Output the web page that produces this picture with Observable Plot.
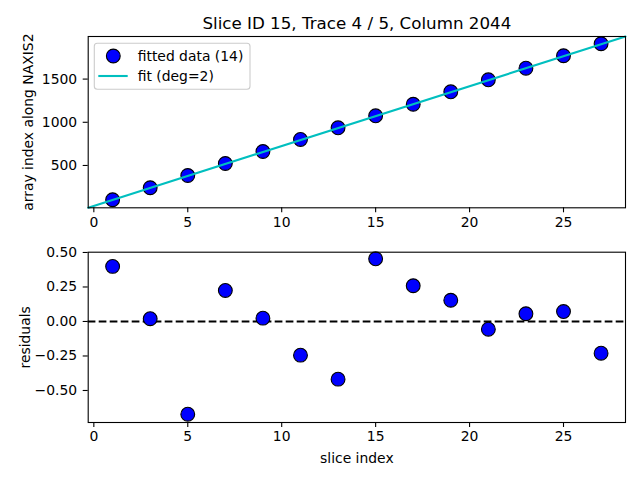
<!DOCTYPE html>
<html>
<head>
<meta charset="utf-8">
<script src="https://cdn.jsdelivr.net/npm/d3@7"></script>
<script src="https://cdn.jsdelivr.net/npm/@observablehq/plot@0.6"></script>
<style>
  body { margin: 0; background: #fff; }
  #fig { position: relative; width: 640px; height: 480px; background: #fff; font-family: "DejaVu Sans", sans-serif; }
  #fig .panel { position: absolute; left: 0; }
  #legend { position: absolute; left: 0; top: 0; pointer-events: none; }
</style>
</head>
<body>
<div id="fig">
  <div id="top" class="panel" style="top:0px"></div>
  <div id="bottom" class="panel" style="top:240px"></div>
</div>
<script>
// ---- data ----
const sliceIndex = [1, 3, 5, 7, 9, 11, 13, 15, 17, 19, 21, 23, 25, 27];
const arrayIndex = [103, 242, 384, 523, 662, 801, 936, 1075, 1209, 1353, 1492, 1626, 1770, 1909];
const residuals  = [0.399, 0.020, -0.672, 0.225, 0.024, -0.244, -0.418, 0.454, 0.259, 0.154, -0.056, 0.056, 0.072, -0.230];
const fitX = [-0.3, 28.3];
const fitY = [12, 1993];
const xDomain = [-0.3, 28.3];
const yDomainTop = [10, 1993];
const yDomainBottom = [-0.732, 0.502];
const xTicks = [0, 5, 10, 15, 20, 25];
const yTicksTop = [500, 1000, 1500];
const yTicksBottom = [-0.5, -0.25, 0, 0.25, 0.5];
const titleText = "Slice ID 15, Trace 4 / 5, Column 2044";
const legendLabels = ["fitted data (14)", "fit (deg=2)"];
const yLabelTop = "array index along NAXIS2";
const yLabelBottom = "residuals";
const xLabel = "slice index";

// ---- tables built from the arrays ----
const points = sliceIndex.map((x, i) => ({x, y: arrayIndex[i]}));
const resid = sliceIndex.map((x, i) => ({x, y: residuals[i]}));
const fit = fitX.map((x, i) => ({x, y: fitY[i]}));

const FONT = "DejaVu Sans";
const commonStyle = {fontFamily: FONT, fontSize: "13.9px", color: "black", background: "transparent", overflow: "visible"};
const ML = 87.7, MR = 15;

const topPlot = Plot.plot({
  width: 640, height: 240,
  marginLeft: ML, marginRight: MR, marginTop: 36, marginBottom: 32.7,
  style: commonStyle,
  x: {domain: xDomain},
  y: {domain: yDomainTop},
  marks: [
    Plot.axisX({ticks: xTicks, tickSize: 5, tickPadding: 4, label: null, strokeWidth: 1.1}),
    Plot.axisY({ticks: yTicksTop, tickSize: 5, tickPadding: 6, tickFormat: d => String(d), strokeWidth: 1.1,
      label: yLabelTop, labelAnchor: "center", labelArrow: "none", labelOffset: 65}),
    Plot.dot(points, {x: "x", y: "y", r: 6.9, fill: "#0000ff", stroke: "black", strokeWidth: 1.1}),
    Plot.line(fit, {x: "x", y: "y", stroke: "#00bfbf", strokeWidth: 2.1}),
    Plot.frame({stroke: "black", strokeWidth: 1.1}),
    Plot.text([titleText], {text: d => d, frameAnchor: "top", lineAnchor: "bottom", dy: -8, fontSize: 16.7, fill: "black"})
  ]
});
document.getElementById("top").appendChild(topPlot);

const bottomPlot = Plot.plot({
  width: 640, height: 240,
  marginLeft: ML, marginRight: MR, marginTop: 11.7, marginBottom: 58,
  style: commonStyle,
  x: {domain: xDomain},
  y: {domain: yDomainBottom},
  marks: [
    Plot.axisX({ticks: xTicks, tickSize: 5, tickPadding: 4, strokeWidth: 1.1,
      label: xLabel, labelAnchor: "center", labelArrow: "none", labelOffset: 40.5}),
    Plot.axisY({ticks: yTicksBottom, tickSize: 5, tickPadding: 6, strokeWidth: 1.1,
      tickFormat: d => (d < 0 ? "\u2212" : "") + Math.abs(d).toFixed(2),
      label: yLabelBottom, labelAnchor: "center", labelArrow: "none", labelOffset: 67.6}),
    Plot.ruleY([0], {stroke: "black", strokeWidth: 2.1, strokeDasharray: "7.7,3.3"}),
    Plot.dot(resid, {x: "x", y: "y", r: 6.9, fill: "#0000ff", stroke: "black", strokeWidth: 1.1}),
    Plot.frame({stroke: "black", strokeWidth: 1.1})
  ]
});
document.getElementById("bottom").appendChild(bottomPlot);

// ---- legend (inside the top axes, as in the reference) ----
const ns = "http://www.w3.org/2000/svg";
const leg = document.createElementNS(ns, "svg");
leg.setAttribute("id", "legend");
leg.setAttribute("width", 640);
leg.setAttribute("height", 480);
leg.innerHTML = `
  <rect x="94.3" y="43.3" width="155.7" height="46" rx="3" ry="3" fill="white" fill-opacity="0.8" stroke="#cccccc" stroke-width="1.1"/>
  <circle cx="113.3" cy="56" r="6.9" fill="#0000ff" stroke="black" stroke-width="1.1"/>
  <line x1="98.3" x2="127.7" y1="76" y2="76" stroke="#00bfbf" stroke-width="2.1"/>
  <text x="137.7" y="60.7" font-family="${FONT}" font-size="13.9" fill="black">${legendLabels[0]}</text>
  <text x="137.7" y="81" font-family="${FONT}" font-size="13.9" fill="black">${legendLabels[1]}</text>
`;
document.getElementById("fig").appendChild(leg);
</script>
</body>
</html>
